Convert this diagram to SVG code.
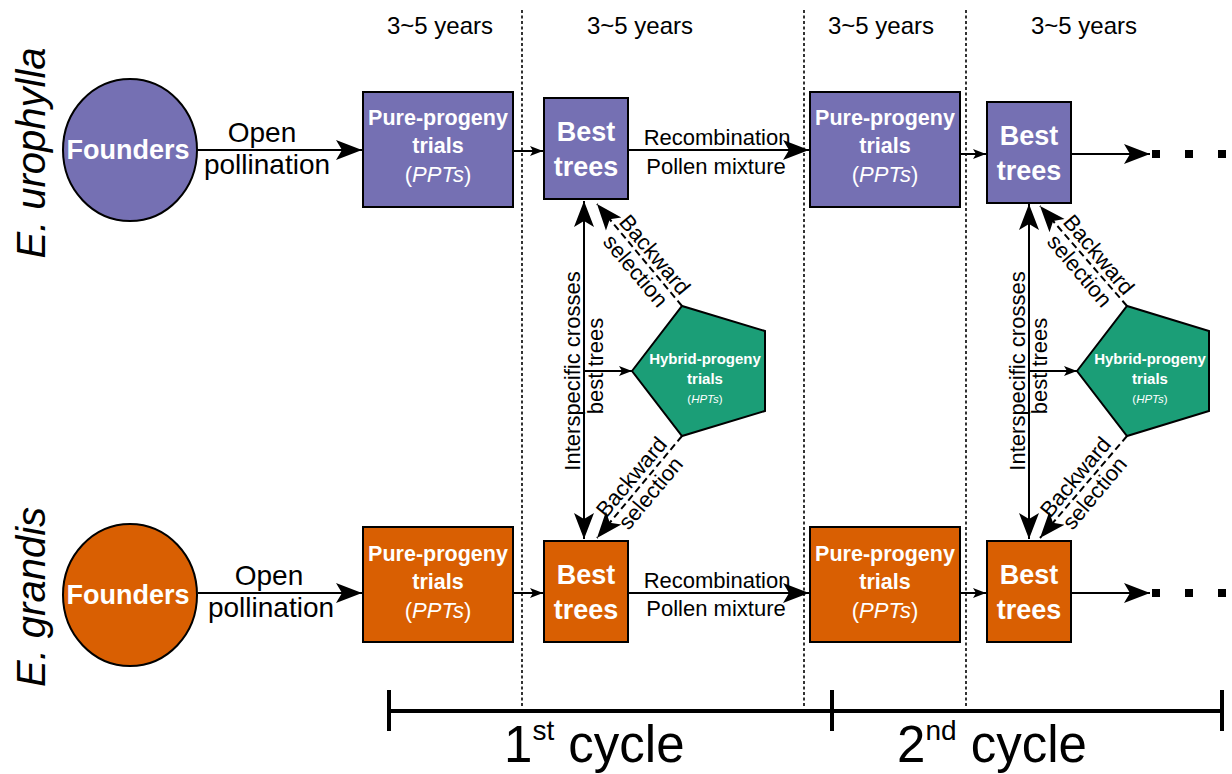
<svg xmlns="http://www.w3.org/2000/svg" width="1232" height="774" viewBox="0 0 1232 774">
<style>
text{font-family:"Liberation Sans",Arial,sans-serif;}
.pu{fill:#7570b3;stroke:#000;stroke-width:2;}
.or{fill:#d95f02;stroke:#000;stroke-width:2;}
.gr{fill:#1b9e77;stroke:#000;stroke-width:2;}
.wb{fill:#fff;font-weight:bold;text-anchor:middle;}
.wn{fill:#fff;text-anchor:middle;}
.lbl{fill:#000;text-anchor:middle;}
.ln{stroke:#000;stroke-width:2;fill:none;}
.ds{stroke:#000;stroke-width:2;fill:none;stroke-dasharray:7 4;}
.dt{stroke:#000;stroke-width:1.6;fill:none;stroke-dasharray:3 2.5;}
.tl{stroke:#000;stroke-width:4;fill:none;}
</style>
<defs>
<marker id="big" markerWidth="28" markerHeight="22" refX="26" refY="11" orient="auto-start-reverse" markerUnits="userSpaceOnUse"><path d="M0,1 L26,11 L0,21 L6,11 z" fill="#000"/></marker>
<marker id="sm" markerWidth="14" markerHeight="10" refX="13" refY="5" orient="auto" markerUnits="userSpaceOnUse"><path d="M0,0 L13,5 L0,10 L3,5 z" fill="#000"/></marker>
</defs>

<g id="guides">
<line class="dt" x1="522" y1="10" x2="522" y2="708"/>
<line class="dt" x1="804" y1="10" x2="804" y2="708"/>
<line class="dt" x1="966" y1="10" x2="966" y2="708"/>
<text class="lbl" x="440" y="34" font-size="24">3~5 years</text>
<text class="lbl" x="640" y="34" font-size="24">3~5 years</text>
<text class="lbl" x="881" y="34" font-size="24">3~5 years</text>
<text class="lbl" x="1084" y="34" font-size="24">3~5 years</text>
</g>

<g id="species-labels">
<text transform="translate(45,153) rotate(-90)" font-size="40" font-style="italic" text-anchor="middle">E. urophylla</text>
<text transform="translate(45,597) rotate(-90)" font-size="40" font-style="italic" text-anchor="middle">E. grandis</text>
</g>

<g id="connectors">
<line class="ln" x1="197" y1="150" x2="362" y2="150" marker-end="url(#big)"/>
<line class="ln" x1="514" y1="151" x2="543" y2="151" marker-end="url(#sm)"/>
<line class="ln" x1="628" y1="150" x2="809" y2="150" marker-end="url(#big)"/>
<line class="ln" x1="960" y1="154" x2="986" y2="154" marker-end="url(#sm)"/>
<line class="ln" x1="1071" y1="154" x2="1150" y2="154" marker-end="url(#big)"/>
<line class="ln" x1="198" y1="593" x2="362" y2="593" marker-end="url(#big)"/>
<line class="ln" x1="514" y1="593" x2="543" y2="593" marker-end="url(#sm)"/>
<line class="ln" x1="628" y1="593" x2="809" y2="593" marker-end="url(#big)"/>
<line class="ln" x1="960" y1="593" x2="986" y2="593" marker-end="url(#sm)"/>
<line class="ln" x1="1071" y1="593" x2="1150" y2="593" marker-end="url(#big)"/>
<line class="ln" x1="584" y1="201" x2="584" y2="539" marker-start="url(#big)" marker-end="url(#big)"/>
<line class="ln" x1="584" y1="371" x2="632" y2="371" marker-end="url(#sm)"/>
<line class="ds" x1="682" y1="306" x2="597" y2="204" marker-end="url(#big)"/>
<line class="ds" x1="682" y1="436" x2="597" y2="538" marker-end="url(#big)"/>
<line class="ln" x1="1029" y1="204" x2="1029" y2="539" marker-start="url(#big)" marker-end="url(#big)"/>
<line class="ln" x1="1029" y1="371" x2="1077" y2="371" marker-end="url(#sm)"/>
<line class="ds" x1="1127" y1="306" x2="1040" y2="206" marker-end="url(#big)"/>
<line class="ds" x1="1127" y1="436" x2="1040" y2="538" marker-end="url(#big)"/>
<rect x="1152" y="150" width="8" height="8"/>
<rect x="1185" y="150" width="8" height="8"/>
<rect x="1218" y="150" width="8" height="8"/>
<rect x="1152" y="589" width="8" height="8"/>
<rect x="1185" y="589" width="8" height="8"/>
<rect x="1218" y="589" width="8" height="8"/>
<text class="lbl" x="262" y="142" font-size="28">Open</text>
<text class="lbl" x="267" y="174" font-size="28">pollination</text>
<text class="lbl" x="269" y="585" font-size="28">Open</text>
<text class="lbl" x="271" y="617" font-size="28">pollination</text>
<text class="lbl" x="717" y="145" font-size="22">Recombination</text>
<text class="lbl" x="716" y="174" font-size="22">Pollen mixture</text>
<text class="lbl" x="717" y="588" font-size="22">Recombination</text>
<text class="lbl" x="716" y="616" font-size="22">Pollen mixture</text>
<text class="lbl" transform="translate(580,371) rotate(-90)" font-size="22">Interspecific crosses</text>
<text class="lbl" transform="translate(603,366) rotate(-90)" font-size="22">best trees</text>
<text class="lbl" transform="translate(1025,371) rotate(-90)" font-size="22">Interspecific crosses</text>
<text class="lbl" transform="translate(1047,366) rotate(-90)" font-size="22">best trees</text>
<g transform="translate(646,262) rotate(50)" font-size="22"><text class="lbl" y="-4">Backward</text><text class="lbl" y="21">selection</text></g>
<g transform="translate(641,485) rotate(-50)" font-size="22"><text class="lbl" y="-5">Backward</text><text class="lbl" y="20">selection</text></g>
<g transform="translate(1090,262) rotate(50)" font-size="22"><text class="lbl" y="-4">Backward</text><text class="lbl" y="21">selection</text></g>
<g transform="translate(1085,485) rotate(-50)" font-size="22"><text class="lbl" y="-5">Backward</text><text class="lbl" y="20">selection</text></g>
</g>

<g id="founders-uro"><ellipse class="pu" cx="130" cy="150" rx="67" ry="71"/><text class="wb" x="128" y="159" font-size="27">Founders</text></g>
<g id="ppt1-uro"><rect class="pu" x="363" y="92" width="150" height="115"/><text class="wb" x="438" y="125" font-size="21.5">Pure-progeny</text><text class="wb" x="438" y="153" font-size="21.5">trials</text><text class="wn" x="438" y="182" font-size="22">(<tspan font-style="italic">PPTs</tspan>)</text></g>
<g id="best1-uro"><rect class="pu" x="544" y="98" width="84" height="101"/><text class="wb" x="586" y="141" font-size="27">Best</text><text class="wb" x="586" y="176" font-size="27">trees</text></g>
<g id="ppt2-uro"><rect class="pu" x="810" y="92" width="150" height="115"/><text class="wb" x="885" y="125" font-size="21.5">Pure-progeny</text><text class="wb" x="885" y="153" font-size="21.5">trials</text><text class="wn" x="885" y="182" font-size="22">(<tspan font-style="italic">PPTs</tspan>)</text></g>
<g id="best2-uro"><rect class="pu" x="987" y="102" width="84" height="101"/><text class="wb" x="1029" y="145" font-size="27">Best</text><text class="wb" x="1029" y="180" font-size="27">trees</text></g>

<g id="founders-gra"><ellipse class="or" cx="130" cy="595" rx="67" ry="71"/><text class="wb" x="128" y="604" font-size="27">Founders</text></g>
<g id="ppt1-gra"><rect class="or" x="363" y="527" width="150" height="115"/><text class="wb" x="438" y="561" font-size="21.5">Pure-progeny</text><text class="wb" x="438" y="589" font-size="21.5">trials</text><text class="wn" x="438" y="618" font-size="22">(<tspan font-style="italic">PPTs</tspan>)</text></g>
<g id="best1-gra"><rect class="or" x="544" y="541" width="84" height="101"/><text class="wb" x="586" y="584" font-size="27">Best</text><text class="wb" x="586" y="619" font-size="27">trees</text></g>
<g id="ppt2-gra"><rect class="or" x="810" y="527" width="150" height="115"/><text class="wb" x="885" y="561" font-size="21.5">Pure-progeny</text><text class="wb" x="885" y="589" font-size="21.5">trials</text><text class="wn" x="885" y="618" font-size="22">(<tspan font-style="italic">PPTs</tspan>)</text></g>
<g id="best2-gra"><rect class="or" x="987" y="541" width="84" height="101"/><text class="wb" x="1029" y="584" font-size="27">Best</text><text class="wb" x="1029" y="619" font-size="27">trees</text></g>

<g id="hpt1"><polygon class="gr" points="632,371 682,306 765,331 765,411 682,436"/><text class="wb" x="705" y="364" font-size="15">Hybrid-progeny</text><text class="wb" x="705" y="384" font-size="15">trials</text><text class="wn" x="705" y="403" font-size="11.5">(<tspan font-style="italic">HPTs</tspan>)</text></g>
<g id="hpt2"><polygon class="gr" points="1077,371 1127,306 1209,331 1209,411 1127,436"/><text class="wb" x="1150" y="364" font-size="15">Hybrid-progeny</text><text class="wb" x="1150" y="384" font-size="15">trials</text><text class="wn" x="1150" y="403" font-size="11.5">(<tspan font-style="italic">HPTs</tspan>)</text></g>

<g id="timeline">
<line class="tl" x1="389" y1="711" x2="1222" y2="711"/>
<line class="tl" x1="389" y1="690" x2="389" y2="731" stroke-width="3"/>
<line class="tl" x1="832" y1="690" x2="832" y2="731" stroke-width="3"/>
<line class="tl" x1="1222" y1="690" x2="1222" y2="731" stroke-width="3"/>
<text x="504" y="762" font-size="51">1<tspan font-size="28" dy="-22">st</tspan><tspan dy="22"> cycle</tspan></text>
<text x="897" y="762" font-size="51">2<tspan font-size="28" dy="-22">nd</tspan><tspan dy="22"> cycle</tspan></text>
</g>
</svg>
